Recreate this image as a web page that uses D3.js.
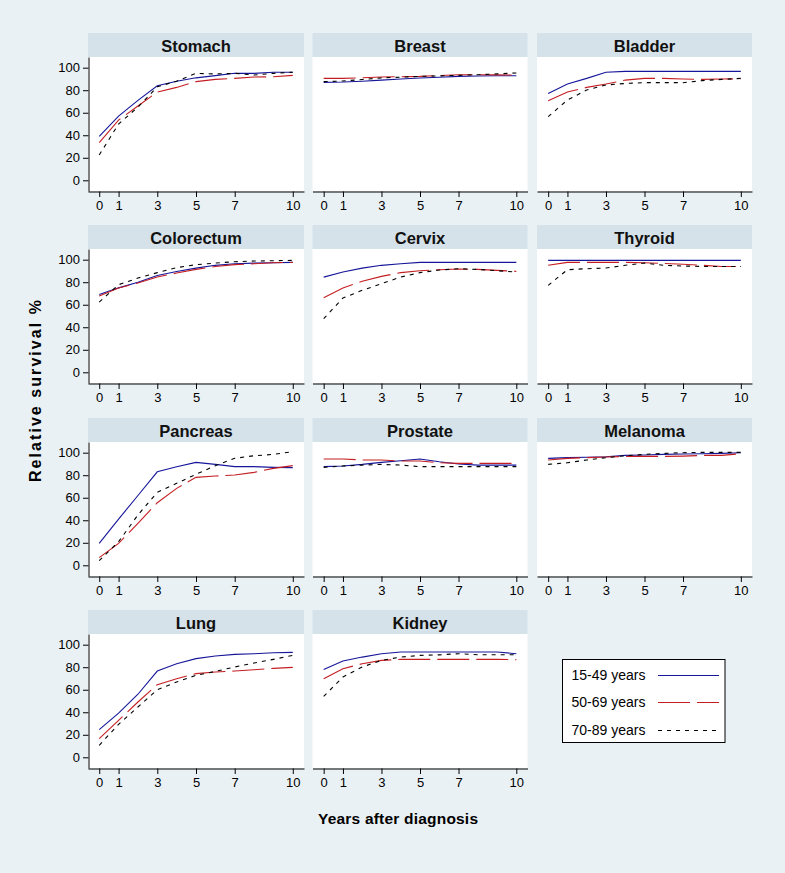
<!DOCTYPE html>
<html><head><meta charset="utf-8">
<script src="https://cdn.jsdelivr.net/npm/d3@7"></script>
<style>body{margin:0;background:#eaf1f4;} svg{display:block;font-family:"Liberation Sans",Arial,sans-serif;}</style>
</head><body>
<script>
const years = [0,1,2,3,4,5,6,7,8,9,10];
const xTicks = [0,1,3,5,7,10];
const yTicks = [0,20,40,60,80,100];
const cancers = ["Stomach","Breast","Bladder","Colorectum","Cervix","Thyroid","Pancreas","Prostate","Melanoma","Lung","Kidney"];
const ageGroups = ["15-49 years","50-69 years","70-89 years"];

const surv15_49 = [
  [39,57,71,84,88,91,93,95,95,96,96],
  [87,87.3,88,89,90,90.8,91.5,92.3,92.6,92.8,92.9],
  [77,85.5,90.5,96,96.7,96.7,96.7,96.7,96.7,96.7,96.7],
  [69,75,80,86,89.5,92.5,95,96.4,97,97.3,97.6],
  [84.5,89,92.5,95,96.4,97.6,97.6,97.6,97.6,97.6,97.6],
  [99.4,99.4,99.4,99.4,99.4,99.4,99.4,99.4,99.4,99.4,99.4],
  [19.5,41,62,83,87.5,91.4,89.6,87.6,87.6,87,86.7],
  [87.6,88.2,89.6,91.4,92.9,94.4,92,90,89,89,89],
  [95,95.6,95.9,96.4,97.6,97.9,98.5,98.8,99.1,99.4,100],
  [24.6,39.3,56,76.6,83,87.6,90,91.4,92,92.9,93.2],
  [78,85.5,89,92,93.5,93.5,93.5,93.5,93.5,93.5,92]
];
const surv50_69 = [
  [33.4,53.5,66,78.4,82.5,87.6,89.6,90.5,91.7,92,93.2],
  [90.5,90.5,91,91.7,92,92.3,93,93.8,93.7,93.6,93.5],
  [70.7,78.4,82.5,85.5,89,90.5,90.5,90,89.6,89.9,90.2],
  [67.8,74.9,79.3,84.6,88.2,91.4,94,95.6,96.4,97.3,97.6],
  [66.3,74.9,80.8,85.2,88.5,90.2,91.1,91.7,91.4,90.5,89.6],
  [95,97.6,97.6,97.6,97.6,97.3,96.7,95.9,95,94,94],
  [6.8,19.5,37.3,55.6,68.3,78.1,79.3,80.2,82.5,86.1,88.5],
  [94.4,94.4,93.5,93.5,92.6,92.6,91.1,90.5,90.5,90.5,90.5],
  [93.5,95,95.6,96.2,96.7,96.7,96.7,97,97.6,97.6,99.1],
  [16.6,32.8,49.1,64.5,69.8,74.3,75.7,76.6,77.8,79,79.9],
  [69.8,78.7,83.1,86.1,87,87,87,87,87,87,86.7]
];
const surv70_89 = [
  [22.5,50,65,83,88,95,94.4,95,93.5,95,96],
  [87.6,88.2,89.5,91,91.6,92.3,92.7,93.2,93.8,94.5,95.3],
  [56.5,71.3,80.2,84.6,86,86.7,86.7,86.7,88.5,89.6,90.5],
  [62.4,77.8,83.7,88.5,92.9,95.6,97,98.2,98.8,99.1,99.4],
  [47.6,66,72.8,78.7,84.6,88.5,90.8,92,91.4,90.2,89],
  [77.2,91.1,92,92.6,95,97,95,94.4,94,94,94],
  [4.1,21,44.7,64.8,72.8,80.8,88.5,95,97.3,98.5,100.9],
  [87,88.2,89,89.6,89,87.6,87.6,87.6,87.6,87.6,87.6],
  [89.6,91.1,93.5,95.6,97.3,98.5,99.4,100,100.3,100.3,100.3],
  [10.7,29.3,44.7,60,66.9,72.8,76.3,80.2,83.7,87,90.5],
  [54.1,71.3,80.2,86.1,89,90.5,91,92,91.1,91.1,91.1]
];
const seriesColors = ["#16169a","#c41e22","#000000"];
const seriesDash = [null,"32,7","4,5"];

const W = 785, H = 873;
const colX = [[88,304],[312.5,527.5],[537,752]];
const rowTop = [33,225,418,610];
const headerH = 24, plotH = 134;

const svg = d3.select("body").append("svg").attr("width",W).attr("height",H);
svg.append("rect").attr("width",W).attr("height",H).attr("fill","#eaf1f4");

const allSeries = [surv15_49, surv50_69, surv70_89];

cancers.forEach((name,i) => {
  const r = Math.floor(i/3), c = i%3;
  const [x0,x1] = colX[c];
  const top = rowTop[r], pTop = top+headerH, pBot = pTop+plotH;
  const x = d3.scaleLinear().domain([-0.58,10.58]).range([x0,x1]);
  const y = d3.scaleLinear().domain([-9.5,109.5]).range([pBot,pTop]);
  const g = svg.append("g");
  g.append("rect").attr("x",x0).attr("y",top).attr("width",x1-x0).attr("height",headerH).attr("fill","#d6e2e9");
  g.append("text").attr("x",(x0+x1)/2).attr("y",top+headerH/2+1).attr("text-anchor","middle")
    .attr("dominant-baseline","central").attr("font-size",16.5).attr("font-weight","bold").attr("fill","#111").text(name);
  g.append("rect").attr("x",x0).attr("y",pTop).attr("width",x1-x0).attr("height",plotH).attr("fill","#ffffff");

  const line = d3.line().x((d,k)=>x(years[k])).y(d=>y(d));
  allSeries.forEach((s,k) => {
    g.append("path").datum(s[i]).attr("d",line).attr("fill","none")
      .attr("stroke",seriesColors[k]).attr("stroke-width",1.1)
      .attr("stroke-dasharray",seriesDash[k]);
  });

  const xa = g.append("g").attr("transform",`translate(0,${pBot+0.5})`)
    .call(d3.axisBottom(x).tickValues(xTicks).tickSizeInner(5.5).tickSizeOuter(0).tickPadding(4).tickFormat(d3.format("d")));
  xa.selectAll("text").attr("font-size",13).attr("fill","#000").style("font-family","'Liberation Sans',Arial,sans-serif");
  xa.selectAll("line,path").attr("stroke","#000");
  if (c===0) {
    const ya = g.append("g").attr("transform",`translate(${x0+0.5},0)`)
      .call(d3.axisLeft(y).tickValues(yTicks).tickSizeInner(5.5).tickSizeOuter(0).tickPadding(3).tickFormat(d3.format("d")));
    ya.selectAll("text").attr("font-size",13).attr("fill","#000").style("font-family","'Liberation Sans',Arial,sans-serif");
    ya.selectAll("line,path").attr("stroke","#000");
  }
});

// axis titles
svg.append("text").attr("transform","translate(41,391) rotate(-90)").attr("text-anchor","middle")
  .attr("font-size",16).attr("font-weight","bold").attr("fill","#000")
  .attr("textLength",182).attr("lengthAdjust","spacing").text("Relative survival %");
svg.append("text").attr("x",398).attr("y",824).attr("text-anchor","middle")
  .attr("font-size",15.5).attr("font-weight","bold").attr("fill","#000")
  .attr("textLength",160).attr("lengthAdjust","spacing").text("Years after diagnosis");

// legend
const lg = svg.append("g");
lg.append("rect").attr("x",562.5).attr("y",659.5).attr("width",162.5).attr("height",83)
  .attr("fill","#fff").attr("stroke","#000").attr("stroke-width",1);
const legY = [675,702,730];
ageGroups.forEach((a,k) => {
  lg.append("text").attr("x",571.5).attr("y",legY[k]).attr("dominant-baseline","central")
    .attr("font-size",14).attr("fill","#000").text(a);
  lg.append("line").attr("x1",658).attr("x2",719).attr("y1",legY[k]+0.5).attr("y2",legY[k]+0.5)
    .attr("stroke",seriesColors[k]).attr("stroke-width",1.1).attr("stroke-dasharray",seriesDash[k]);
});
</script>
</body></html>
